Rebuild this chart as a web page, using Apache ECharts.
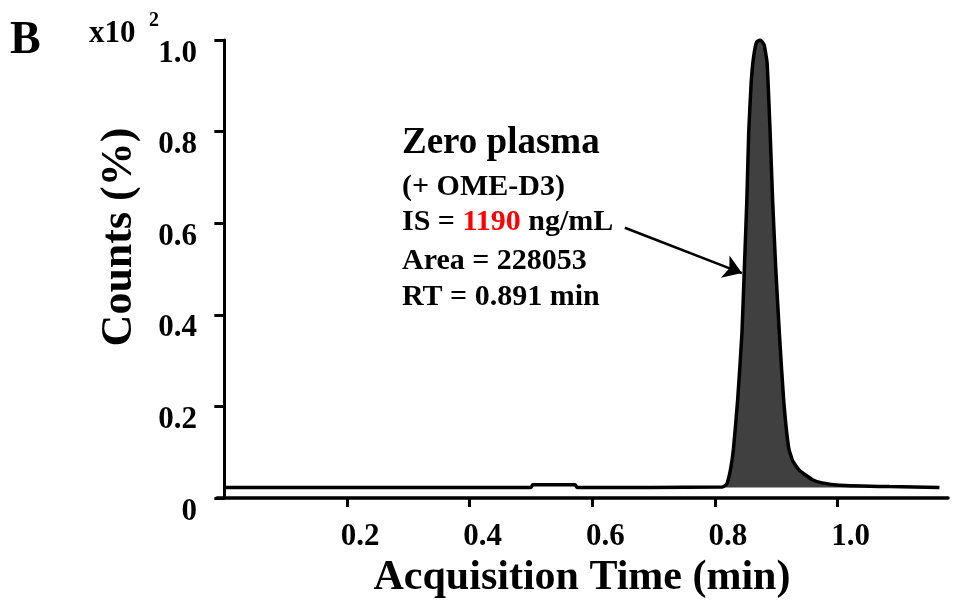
<!DOCTYPE html>
<html>
<head>
<meta charset="utf-8">
<script src="https://cdn.jsdelivr.net/npm/echarts@6/dist/echarts.min.js"></script>
<style>
  html, body { margin: 0; padding: 0; background: #fff; }
  #chart { width: 957px; height: 604px; }
</style>
</head>
<body>
<div id="chart"></div>
<script>
// acquisition time (min) and counts (x10^2 %)
const traceTime = [
  0.000, 0.500, 0.503, 0.572, 0.575, 0.812, 0.819, 0.825, 0.830, 0.837,
  0.844, 0.848, 0.852, 0.855, 0.859, 0.863, 0.868, 0.874, 0.880, 0.885,
  0.890, 0.894, 0.899, 0.905, 0.912, 0.920, 0.927, 0.938, 0.959, 0.975,
  1.003, 1.084, 1.166
];
const traceCounts = [
  0.023, 0.023, 0.029, 0.029, 0.023, 0.024, 0.030, 0.060, 0.105, 0.214,
  0.360, 0.504, 0.651, 0.797, 0.906, 0.963, 0.996, 1.000, 0.990, 0.950,
  0.797, 0.651, 0.504, 0.360, 0.214, 0.111, 0.080, 0.060, 0.040, 0.033,
  0.028, 0.025, 0.023
];
const peakStart = 0.812;      // filled peak begins here
const baselineLevel = 0.023;  // fill goes down to the trace baseline
const xTicks = [0.2, 0.4, 0.6, 0.8, 1.0];
const arrowFrom = [0.653, 0.590];
const arrowTo = [0.844, 0.491];

const FONT = 'Liberation Serif';

const traceData = traceTime.map((t, i) => [t, traceCounts[i]]);
const peakData = traceData.filter(d => d[0] >= peakStart);

const option = {
  animation: false,
  grid: { left: 217, right: 9, top: 40, bottom: 106 },
  xAxis: {
    type: 'value',
    min: -0.012,
    max: 1.18,
    splitLine: { show: false },
    axisLine: { lineStyle: { color: '#000', width: 3.5 } },
    axisTick: {
      customValues: xTicks,
      length: 9,
      lineStyle: { color: '#000', width: 3 }
    },
    axisLabel: {
      customValues: xTicks,
      formatter: v => v.toFixed(1),
      color: '#000',
      fontFamily: FONT,
      fontWeight: 'bold',
      fontSize: 31,
      margin: 23,
      padding: [0, 0, 0, 26]
    }
  },
  yAxis: {
    type: 'value',
    min: 0,
    max: 1,
    interval: 0.2,
    splitLine: { show: false },
    axisLine: { show: true, lineStyle: { color: '#000', width: 3 } },
    axisTick: { show: true, length: 10, lineStyle: { color: '#000', width: 3 } },
    axisLabel: {
      formatter: v => (v === 0 ? '0' : v.toFixed(1)),
      color: '#000',
      fontFamily: FONT,
      fontWeight: 'bold',
      fontSize: 31,
      margin: 20,
      verticalAlign: 'top',
      lineHeight: 27
    }
  },
  series: [
    {
      name: 'peak',
      type: 'line',
      data: peakData,
      symbol: 'none',
      smooth: 0.15,
      lineStyle: { width: 0 },
      areaStyle: { color: '#404040', opacity: 1, origin: baselineLevel },
      z: 1
    },
    {
      name: 'trace',
      type: 'line',
      data: traceData,
      symbol: 'none',
      smooth: 0.15,
      lineStyle: { color: '#000', width: 3.5 },
      z: 2,
      markLine: {
        silent: true,
        symbol: ['none', 'arrow'],
        symbolSize: 18,
        label: { show: false },
        lineStyle: { color: '#000', width: 2.5, type: 'solid' },
        data: [[{ coord: arrowFrom }, { coord: arrowTo }]]
      }
    }
  ],
  graphic: [
    { type: 'text', left: 10, top: 18,
      style: { text: 'B', fontFamily: FONT, fontWeight: 'bold', fontSize: 46, fill: '#000' } },
    { type: 'text', x: 89, y: 34,
      style: { text: 'x10', fontFamily: FONT, fontWeight: 'bold', fontSize: 31, fill: '#000', verticalAlign: 'middle' } },
    { type: 'text', x: 149, y: 21,
      style: { text: '2', fontFamily: FONT, fontWeight: 'bold', fontSize: 20, fill: '#000', verticalAlign: 'middle' } },
    { type: 'text', x: 120, y: 237, rotation: Math.PI / 2,
      style: { text: 'Counts (%)', fontFamily: FONT, fontWeight: 'bold', fontSize: 44, fill: '#000',
               align: 'center', verticalAlign: 'middle' } },
    { type: 'text', x: 582, y: 578,
      style: { text: 'Acquisition Time (min)', fontFamily: FONT, fontWeight: 'bold', fontSize: 42, fill: '#000',
               align: 'center', verticalAlign: 'middle' } },
    { type: 'text', x: 402, y: 143,
      style: { text: 'Zero plasma', fontFamily: FONT, fontWeight: 'bold', fontSize: 37, fill: '#000', verticalAlign: 'middle' } },
    { type: 'text', x: 402, y: 187,
      style: { text: '(+ OME-D3)', fontFamily: FONT, fontWeight: 'bold', fontSize: 30, fill: '#000', verticalAlign: 'middle' } },
    { type: 'text', x: 402, y: 222,
      style: {
        text: '{b|IS = }{r|1190}{b| ng/mL}',
        verticalAlign: 'middle',
        rich: {
          b: { fontFamily: FONT, fontWeight: 'bold', fontSize: 30, fill: '#000', color: '#000' },
          r: { fontFamily: FONT, fontWeight: 'bold', fontSize: 30, fill: '#ff0000', color: '#ff0000' }
        }
      } },
    { type: 'text', x: 402, y: 261,
      style: { text: 'Area = 228053', fontFamily: FONT, fontWeight: 'bold', fontSize: 30, fill: '#000', verticalAlign: 'middle' } },
    { type: 'text', x: 402, y: 297,
      style: { text: 'RT = 0.891 min', fontFamily: FONT, fontWeight: 'bold', fontSize: 30, fill: '#000', verticalAlign: 'middle' } }
  ]
};

const chart = echarts.init(document.getElementById('chart'), null, { renderer: 'canvas' });
chart.setOption(option);
</script>
</body>
</html>
